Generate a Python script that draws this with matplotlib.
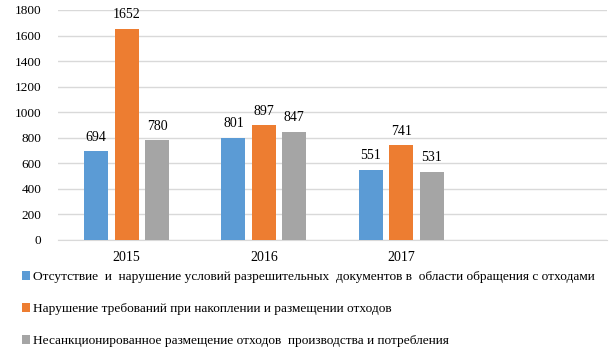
import matplotlib.pyplot as plt
import numpy as np

plt.rcParams['font.family'] = ['Liberation Serif', 'DejaVu Serif']

years = ['2015', '2016', '2017', '']
series_names = [
    'Отсутствие  и  нарушение условий разрешительных  документов в  области обращения с отходами',
    'Нарушение требований при накоплении и размещении отходов',
    'Несанкционированное размещение отходов  производства и потребления',
]
absence = [694, 801, 551]
storage = [1652, 897, 741]
unauthorized = [780, 847, 531]
colors = ['#5b9bd5', '#ed7d31', '#a5a5a5']
y_ticks = [0, 200, 400, 600, 800, 1000, 1200, 1400, 1600, 1800]

fig = plt.figure(figsize=(6.14, 3.57), dpi=100)
ax = fig.add_axes([0.0945, 0.328, 0.894, 0.644])

x = np.arange(len(years))
width = 0.175
step = 0.222
for i, (vals, c, name) in enumerate(zip([absence, storage, unauthorized], colors, series_names)):
    pos = x[:len(vals)] + (i - 1) * step
    bars = ax.bar(pos, vals, width, color=c, label=name, zorder=3)
    for b, v in zip(bars, vals):
        ax.annotate(str(v), (b.get_x() + b.get_width() / 2, v),
                    xytext=(0, 5.5), textcoords='offset points',
                    ha='center', va='bottom', fontsize=10)

ax.set_xlim(-0.5, len(years) - 0.5)
ax.set_ylim(0, 1800)
ax.set_yticks(y_ticks)
ax.set_xticks(x)
ax.set_xticklabels(years, fontsize=10)
ax.tick_params(axis='y', labelsize=9.5, length=0, pad=12)
ax.tick_params(axis='x', length=0, pad=8)
ax.grid(axis='y', color='#d9d9d9', linewidth=1, zorder=0)
for s in ['top', 'right', 'left']:
    ax.spines[s].set_visible(False)
ax.spines['bottom'].set_color('#d9d9d9')

fig.legend(loc='upper left', bbox_to_anchor=(0.036, 0.24), frameon=False,
           fontsize=9.6, handlelength=0.6, handleheight=0.6, handletextpad=0.25,
           labelspacing=1.5, borderaxespad=0, borderpad=0)

fig.savefig('out.png', dpi=100)
